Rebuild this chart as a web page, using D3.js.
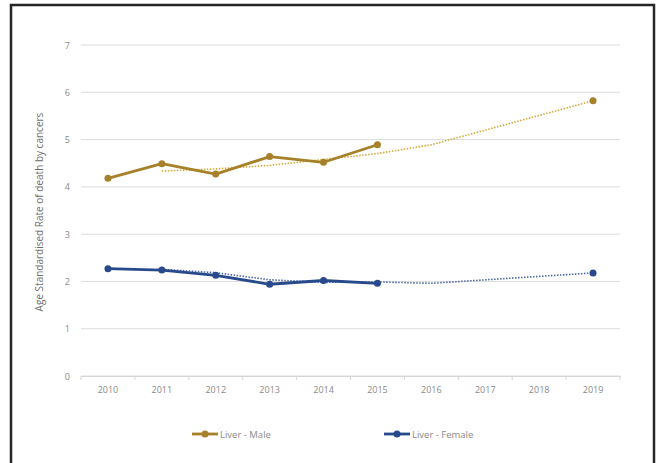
<!DOCTYPE html>
<html><head><meta charset="utf-8">
<script src="https://cdn.jsdelivr.net/npm/d3@7"></script>
<style>body{margin:0;background:#fff}svg{display:block}text{font-family:"Open Sans","Liberation Sans",sans-serif}</style>
</head><body><svg id="c" width="656" height="463"></svg>
<script>
const years = ["2010","2011","2012","2013","2014","2015","2016","2017","2018","2019"];
const maleValues = [4.18, 4.49, 4.27, 4.64, 4.52, 4.89, null, null, null, 5.82];
const femaleValues = [2.27, 2.24, 2.13, 1.94, 2.02, 1.96, null, null, null, 2.18];
const maleTrend = [null, 4.335, 4.38, 4.455, 4.58, 4.705, 4.89, null, null, 5.82];
const femaleTrend = [null, 2.255, 2.185, 2.035, 1.98, 1.99, 1.96, null, null, 2.18];
const yTicks = [0,1,2,3,4,5,6,7];
const seriesNames = ["Liver - Male", "Liver - Female"];
const colors = ["#A7802A", "#284A8C"];
const trendColors = ["#D2A93C", "#4A68A8"];

const svg = d3.select("#c");
svg.append("rect").attr("x",11).attr("y",5).attr("width",643).attr("height",470)
  .attr("fill","#fff").attr("stroke","#262626").attr("stroke-width",2.5);

const x = d3.scaleBand().domain(years).range([81,620]);
const y = d3.scaleLinear().domain([0,7]).range([376,45]);
const cx = d => x(d) + x.bandwidth()/2;

svg.append("g").selectAll("line").data(yTicks).join("line")
  .attr("x1",81).attr("x2",620).attr("y1",d=>y(d)).attr("y2",d=>y(d))
  .attr("stroke","#dcdcdc").attr("stroke-width",1);

svg.append("g").selectAll("text").data(yTicks).join("text")
  .attr("x",70).attr("y",d=>y(d)+3.5).attr("text-anchor","end")
  .attr("font-size",9).attr("fill","#8a8a8a").text(d=>d);

const xa = svg.append("g").attr("transform","translate(0,376)")
  .call(d3.axisBottom(x).tickSize(0).tickPadding(11));
xa.select(".domain").attr("stroke","#d6d6d6");
xa.selectAll("text").attr("font-size",9).attr("fill","#8a8a8a")
  .style("font-family","'Open Sans','Liberation Sans',sans-serif");
svg.append("g").selectAll("line").data(years.concat(["end"])).join("line")
  .attr("x1",(d,i)=>81+i*x.bandwidth()).attr("x2",(d,i)=>81+i*x.bandwidth())
  .attr("y1",376).attr("y2",380).attr("stroke","#d6d6d6");

svg.append("text").attr("transform","translate(43,212) rotate(-90)")
  .attr("text-anchor","middle").attr("font-size",10).attr("fill","#6e6e6e")
  .text("Age Standardised Rate of death by cancers");

function toPts(vals){ return years.map((yr,i)=>({yr, v: vals[i]})).filter(d=>d.v!=null); }

const trendLine = d3.line().x(d=>cx(d.yr)).y(d=>y(d.v));
[maleTrend, femaleTrend].forEach((t,k)=>{
  svg.append("path").datum(toPts(t)).attr("d",trendLine).attr("fill","none")
    .attr("stroke",trendColors[k]).attr("stroke-width",1.6).attr("stroke-dasharray","1.5,1.5");
});

const mainLine = d3.line().x(d=>cx(d.yr)).y(d=>y(d.v));
[maleValues, femaleValues].forEach((vals,k)=>{
  const pts = toPts(vals);
  const solid = pts.filter(d=>+d.yr<=2015);
  svg.append("path").datum(solid).attr("d",mainLine).attr("fill","none")
    .attr("stroke",colors[k]).attr("stroke-width",2.8).attr("stroke-linejoin","round");
  svg.append("g").selectAll("circle").data(pts).join("circle")
    .attr("cx",d=>cx(d.yr)).attr("cy",d=>y(d.v)).attr("r",3.5).attr("fill",colors[k]);
});

const legX = [192, 384];
seriesNames.forEach((n,k)=>{
  const g = svg.append("g").attr("transform",`translate(${legX[k]},434)`);
  g.append("line").attr("x1",0).attr("x2",26).attr("stroke",colors[k]).attr("stroke-width",2.8);
  g.append("circle").attr("cx",13).attr("r",3.5).attr("fill",colors[k]);
  g.append("text").attr("x",28).attr("y",3.5).attr("font-size",9.5).attr("fill","#8a8a8a").text(n);
});
</script></body></html>
